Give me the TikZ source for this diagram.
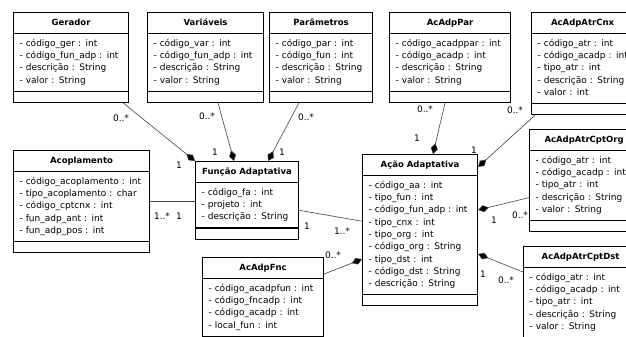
\documentclass[tikz,border=0pt]{standalone}
\usepackage{fontspec}
\setmainfont{DejaVu Sans}
\usetikzlibrary{shapes.multipart,arrows.meta}

\newcommand{\titulo}[1]{\strut\hspace*{\fill}{\fontsize{8.5}{12.3}\selectfont\textbf{#1}}\hspace*{\fill}\null}
\newcommand{\vazio}{\rule{0pt}{2.5pt}}

\tikzset{
  classe/.style={rectangle split, rectangle split parts=3, draw, line width=1.1pt,
    fill=white, anchor=north west, align=left, inner xsep=6pt, inner ysep=3.75pt,
    font=\fontsize{9}{12.3}\selectfont},
  assoc/.style={draw=black!75, line width=0.6pt},
  comp/.style={assoc, -{Diamond[length=11pt,width=7pt,fill=black]}},
  mult/.style={font=\fontsize{9}{10}\selectfont, inner sep=0pt}
}

\begin{document}
\begin{tikzpicture}[x=1pt,y=-1pt]
\useasboundingbox (0,0) rectangle (626,337);
\clip (0,0) rectangle (626,337);

\node[classe, text width=103pt] (ger) at (13,12) {\titulo{Gerador}\nodepart{two}\strut- código\_ger : int\\- código\_fun\_adp : int\\- descrição : String\\- valor : String\strut\nodepart{three}\vazio};
\node[classe, text width=104pt] (var) at (147,12) {\titulo{Variáveis}\nodepart{two}\strut- código\_var : int\\- código\_fun\_adp : int\\- descrição : String\\- valor : String\strut\nodepart{three}\vazio};
\node[classe, text width=91pt] (par) at (269,12) {\titulo{Parâmetros}\nodepart{two}\strut- código\_par : int\\- código\_fun : int\\- descrição : String\\- valor : String\strut\nodepart{three}\vazio};
\node[classe, text width=109pt] (par2) at (389,12) {\titulo{AcAdpPar}\nodepart{two}\strut- código\_acadppar : int\\- código\_acadp : int\\- descrição : String\\- valor : String\strut\nodepart{three}\vazio};
\node[classe, text width=90pt] (cnx) at (531,12) {\titulo{AcAdpAtrCnx}\nodepart{two}\strut- código\_atr : int\\\mbox{- código\_acadp : int}\\- tipo\_atr : int\\- descrição : String\\- valor : int\strut\nodepart{three}\vazio};
\node[classe, text width=124pt] (acop) at (13,150) {\titulo{Acoplamento}\nodepart{two}\strut- código\_acoplamento : int\\- tipo\_acoplamento : char\\- código\_cptcnx : int\\- fun\_adp\_ant : int\\- fun\_adp\_pos : int\strut\nodepart{three}\vazio};
\node[classe, text width=91pt] (fa) at (195,161) {\titulo{Função Adaptativa}\nodepart{two}\strut- código\_fa : int\\- projeto : int\\- descrição : String\strut\nodepart{three}\vazio};
\node[classe, text width=103pt] (aa) at (362,154) {\titulo{Ação Adaptativa}\nodepart{two}\strut- código\_aa : int\\- tipo\_fun : int\\- código\_fun\_adp : int\\- tipo\_cnx : int\\- tipo\_org : int\\- código\_org : String\\- tipo\_dst : int\\- código\_dst : String\\- descrição : String\strut\nodepart{three}\vazio};
\node[classe, text width=97pt] (org) at (529,129) {\titulo{AcAdpAtrCptOrg}\nodepart{two}\strut- código\_atr : int\\\mbox{- código\_acadp : int}\\- tipo\_atr : int\\- descrição : String\\- valor : String\strut\nodepart{three}\vazio};
\node[classe, text width=102pt] (dst) at (523,246) {\titulo{AcAdpAtrCptDst}\nodepart{two}\strut- código\_atr : int\\\mbox{- código\_acadp : int}\\- tipo\_atr : int\\- descrição : String\\- valor : String\strut\nodepart{three}\vazio};
\node[classe, text width=109pt] (fnc) at (202,257) {\titulo{AcAdpFnc}\nodepart{two}\strut- código\_acadpfun : int\\- código\_fncadp : int\\- código\_acadp : int\\- local\_fun : int\strut\nodepart{three}\vazio};

\draw[comp] ([xshift=-6pt]ger.south east) -- (fa.north west);
\draw[comp] ([xshift=71pt]var.south west) -- ([xshift=39pt]fa.north west);
\draw[comp] ([xshift=30pt]par.south west) -- ([xshift=-31pt]fa.north east);
\draw[assoc] (acop.east) -- (acop.east -| fa.west);
\draw[assoc] ([yshift=-10pt]fa.east) -- ([yshift=9pt]aa.west);
\draw[comp] ([yshift=-17pt]fnc.north east) -- ([yshift=-29pt]aa.west);
\draw[comp] ([xshift=56pt]par2.south west) -- ([xshift=71pt]aa.north west);
\draw[comp] ([xshift=4pt]cnx.south west) -- ([yshift=-13pt]aa.north east);
\draw[comp] ([yshift=-17pt]org.west) -- ([yshift=-56pt]aa.north east);
\draw[comp] ([yshift=-26pt]dst.north west) -- ([yshift=-100pt]aa.north east);

\node[mult] (mger0) at (121,118) {0..*};
\node[mult] (mger1) at (179,165) {1};
\node[mult] (mvar0) at (207,116) {0..*};
\node[mult] (mvar1) at (215,152) {1};
\node[mult] (mpar0) at (306,117) {0..*};
\node[mult] (mpar1) at (282,152) {1};
\node[mult] (macop0) at (162,216) {1..*};
\node[mult] (macop1) at (179,216) {1};
\node[mult] (mfa1) at (307,226) {1};
\node[mult] (mfa0) at (342,231) {1..*};
\node[mult] (mfnc0) at (333,255) {0..*};
\node[mult] (mpar20) at (425,109) {0..*};
\node[mult] (mpar21) at (417,138) {1};
\node[mult] (mcnx0) at (515,110) {0..*};
\node[mult] (mcnx1) at (474,150) {1};
\node[mult] (morg0) at (520,215) {0..*};
\node[mult] (morg1) at (494,220) {1};
\node[mult] (mdst0) at (506,280) {0..*};
\node[mult] (mdst1) at (483,274) {1};
\end{tikzpicture}
\end{document}
